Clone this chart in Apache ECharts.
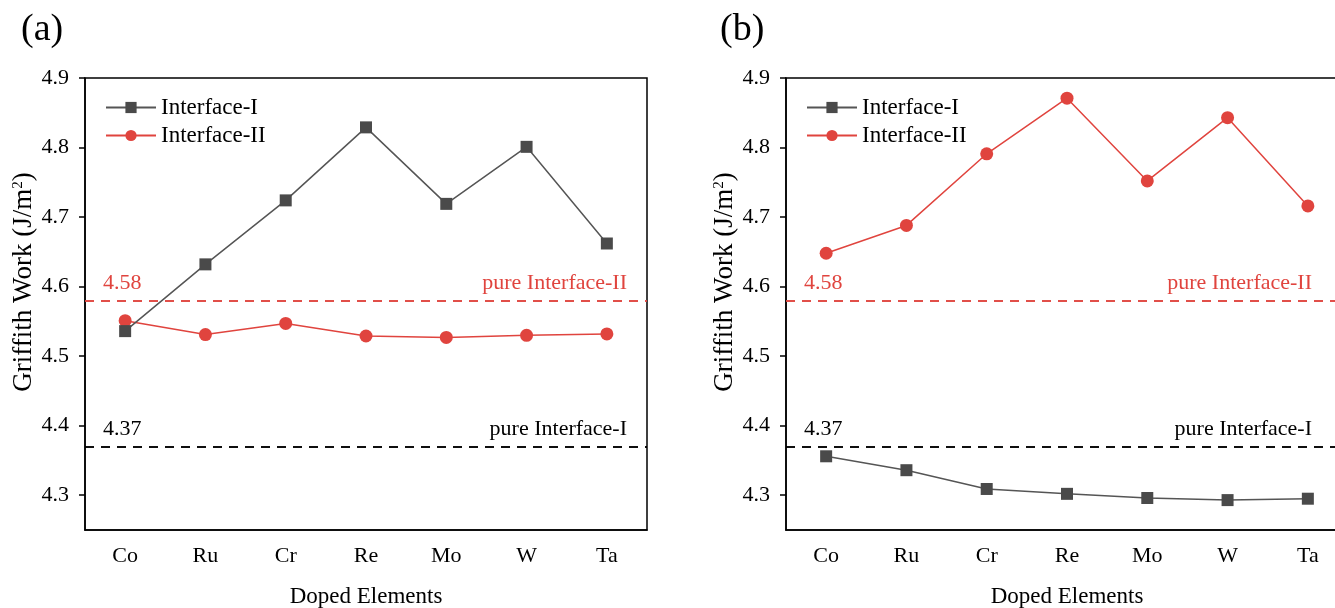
<!DOCTYPE html>
<html>
<head>
<meta charset="utf-8">
<script src="https://cdn.jsdelivr.net/npm/echarts@6/dist/echarts.min.js"></script>
<style>
html, body { margin: 0; padding: 0; background: #fff; }
#main { width: 1335px; height: 608px; }
</style>
</head>
<body>
<div id="main"></div>
<script>
var elements = ['Co', 'Ru', 'Cr', 'Re', 'Mo', 'W', 'Ta'];
var yTicks = [4.3, 4.4, 4.5, 4.6, 4.7, 4.8, 4.9];

// panel (a)
var aInterfaceI = [4.536, 4.632, 4.724, 4.829, 4.719, 4.801, 4.662];
var aInterfaceII = [4.551, 4.531, 4.547, 4.529, 4.527, 4.530, 4.532];
// panel (b)
var bInterfaceI = [4.356, 4.336, 4.309, 4.302, 4.296, 4.293, 4.295];
var bInterfaceII = [4.648, 4.688, 4.791, 4.871, 4.752, 4.843, 4.716];

var pureI = 4.37;
var pureII = 4.58;

var font = '"Liberation Serif", "Times New Roman", serif';
var grayCol = '#4a4a4a';
var redCol = '#e0443e';

var grids = [
    { left: 85, top: 78, width: 562, height: 452 },
    { left: 786, top: 78, width: 562, height: 452 }
];

function makeX(i) {
    return {
        type: 'category', gridIndex: i, data: elements, boundaryGap: true,
        name: 'Doped Elements', nameLocation: 'middle', nameGap: 55,
        nameTextStyle: { fontFamily: font, fontSize: 23, color: '#000' },
        axisLine: { lineStyle: { color: '#000', width: 1.5 } },
        axisTick: { alignWithLabel: true, length: 6, lineStyle: { color: '#000', width: 1.5 } },
        axisLabel: { fontFamily: font, fontSize: 22, color: '#000', margin: 15 },
        splitLine: { show: false }
    };
}

function makeY(i) {
    return {
        type: 'value', gridIndex: i, min: 4.25, max: 4.9,
        name: 'Griffith Work (J/m{sup|2})', nameLocation: 'middle', nameGap: 46,
        nameTextStyle: { fontFamily: font, fontSize: 27, color: '#000', padding: [0, 0, 0, 44],
            rich: { sup: { fontFamily: font, fontSize: 15, color: '#000', verticalAlign: 'top', padding: [0, 0, 11, 0] } } },
        axisLine: { show: true, lineStyle: { color: '#000', width: 1.5 } },
        axisTick: { show: true, length: 6, customValues: yTicks, lineStyle: { color: '#000', width: 1.5 } },
        axisLabel: { fontFamily: font, fontSize: 22, color: '#000', margin: 16, customValues: yTicks,
            formatter: function (v) { return v.toFixed(1); } },
        splitLine: { show: false }
    };
}

function refLines(endDist) {
    var red = { color: redCol, type: [9, 7], width: 1.5 };
    var blk = { color: '#000', type: [9, 7], width: 1.5 };
    return {
        silent: true, symbol: 'none',
        data: [
            { yAxis: pureII, lineStyle: red,
              label: { position: 'insideStartTop', formatter: '4.58', color: redCol, distance: [18, 6] } },
            { yAxis: pureII, lineStyle: red,
              label: { position: 'insideEndTop', formatter: 'pure Interface-II', color: redCol, distance: [endDist, 6] } },
            { yAxis: pureI, lineStyle: blk,
              label: { position: 'insideStartTop', formatter: '4.37', color: '#000', distance: [18, 6] } },
            { yAxis: pureI, lineStyle: blk,
              label: { position: 'insideEndTop', formatter: 'pure Interface-I', color: '#000', distance: [endDist, 6] } }
        ],
        label: { fontFamily: font, fontSize: 22 }
    };
}

function seriesI(i, data) {
    return {
        name: 'Interface-I', type: 'line', xAxisIndex: i, yAxisIndex: i, data: data,
        symbol: 'rect', symbolSize: 12, z: 3,
        lineStyle: { color: '#555', width: 1.5 },
        itemStyle: { color: grayCol }
    };
}

function seriesII(i, data, endDist) {
    return {
        name: 'Interface-II', type: 'line', xAxisIndex: i, yAxisIndex: i, data: data,
        symbol: 'circle', symbolSize: 13, z: 2,
        lineStyle: { color: redCol, width: 1.5 },
        itemStyle: { color: redCol },
        markLine: refLines(endDist)
    };
}

function makeLegend(left) {
    return {
        left: left, top: 91, orient: 'vertical', itemGap: 5,
        itemWidth: 50, itemHeight: 14,
        textStyle: { fontFamily: font, fontSize: 23, color: '#000' },
        data: ['Interface-I', 'Interface-II']
    };
}

var chart = echarts.init(document.getElementById('main'), null, { renderer: 'canvas' });
var option = {
    backgroundColor: '#fff',
    animation: false,
    title: [
        { text: '(a)', left: 16, top: 6, textStyle: { fontFamily: font, fontSize: 38, fontWeight: 'normal', color: '#000' } },
        { text: '(b)', left: 715, top: 6, textStyle: { fontFamily: font, fontSize: 38, fontWeight: 'normal', color: '#000' } }
    ],
    legend: [makeLegend(100), makeLegend(801)],
    grid: grids.map(function (g) {
        return { left: g.left, top: g.top, width: g.width, height: g.height, outerBoundsMode: 'none',
            show: true, borderColor: '#000', borderWidth: 1.5, backgroundColor: 'transparent' };
    }),
    xAxis: [makeX(0), makeX(1)],
    yAxis: [makeY(0), makeY(1)],
    series: [
        seriesII(0, aInterfaceII, 20),
        seriesI(0, aInterfaceI),
        seriesII(1, bInterfaceII, 36),
        seriesI(1, bInterfaceI)
    ]
};
chart.setOption(option);
</script>
</body>
</html>
